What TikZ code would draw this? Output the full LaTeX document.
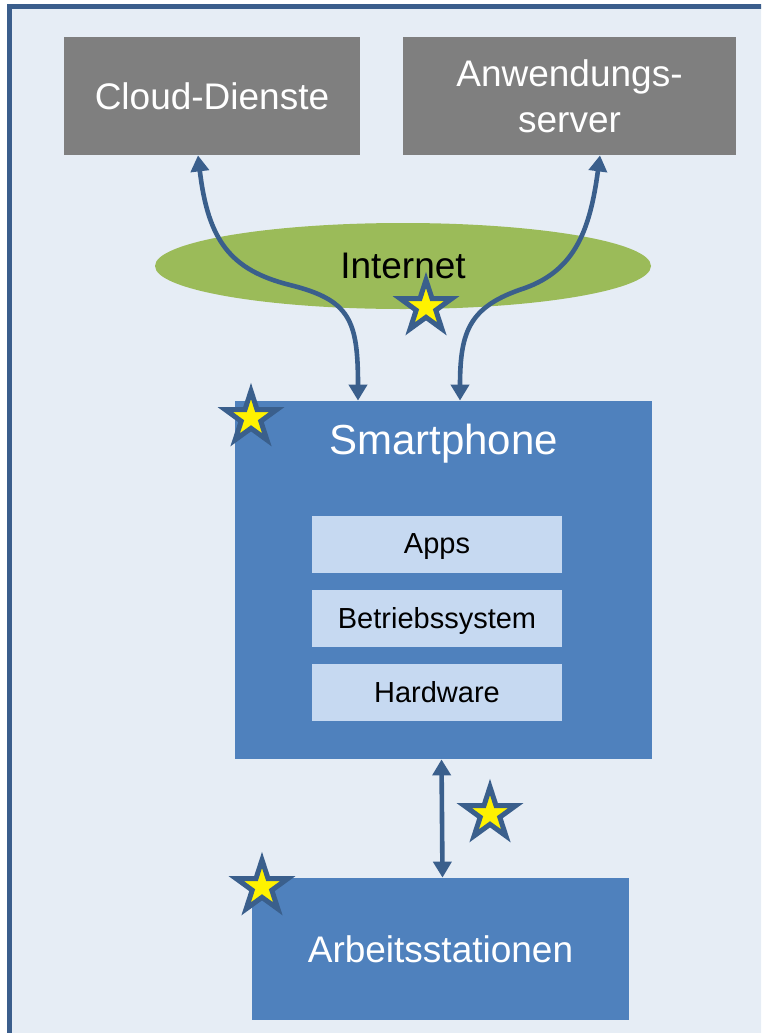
\documentclass[tikz,border=0pt]{standalone}
\usepackage{fontspec}
\setmainfont{Liberation Sans}
\usetikzlibrary{shapes.geometric,arrows.meta}

\definecolor{framebg}{RGB}{230,237,245}
\definecolor{frameline}{RGB}{59,94,140}
\definecolor{servergray}{RGB}{127,127,127}
\definecolor{netgreen}{RGB}{155,187,89}
\definecolor{phoneblue}{RGB}{79,129,189}
\definecolor{layerblue}{RGB}{198,217,241}
\definecolor{linkblue}{RGB}{58,95,140}

\tikzset{
  graybox/.style={fill=servergray, text=white, minimum height=59pt, align=center, font=\fontsize{18.5}{23}\selectfont},
  bluebox/.style={fill=phoneblue, text=white},
  layerbox/.style={fill=layerblue, minimum width=125pt, minimum height=28.5pt, text depth=0pt, font=\fontsize{14.5}{17}\selectfont},
  marker/.style={star, star points=5, star point ratio=2.618, minimum size=27pt, inner sep=0pt, fill=yellow, draw=linkblue, line width=2.5pt},
  link/.style={draw=linkblue, line width=2.3pt, <->, >={Triangle[width=9pt,length=8pt]}}
}

\begin{document}
\begin{tikzpicture}[x=0.5pt, y=-0.5pt]
\useasboundingbox (0,0) rectangle (761,1033);
\clip (0,0) rectangle (761,1033);

% Rahmen
\draw[frameline, line width=2.5pt, fill=framebg] (9.5,6) rectangle (800,1070);

% Dienste
\node[graybox, minimum width=148pt] (cloud) at (212,96) {Cloud-Dienste};
\node[graybox, minimum width=166.5pt] (appserver) at (569.5,96) {Anwendungs-\\server};

% Internet
\node[ellipse, fill=netgreen, minimum width=248pt, minimum height=43pt, text depth=0pt, font=\fontsize{18.5}{22}\selectfont] (internet) at (403,266) {Internet};

% Smartphone
\node[bluebox, minimum width=208.5pt, minimum height=179pt] (phone) at (443.5,580) {};
\node[text=white, font=\fontsize{21}{25}\selectfont, anchor=base] (phonetitle) at (443.5,454) {Smartphone};
\node[layerbox] (apps) at (437,544) {Apps};
\node[layerbox] (os) at (437,618) {Betriebssystem};
\node[layerbox] (hw) at (437,692) {Hardware};

% Arbeitsstationen
\node[bluebox, minimum width=188.5pt, minimum height=71pt, text depth=0pt, font=\fontsize{18.5}{22}\selectfont] (station) at (440.5,949) {Arbeitsstationen};

% Verbindungen
\draw[link] ([xshift=-7pt]cloud.south) .. controls (208,240) and (230,270) .. (290,285)
  .. controls (350,300) and (358,320) .. ([xshift=-42.75pt]phone.north);
\draw[link] ([xshift=15.25pt]appserver.south) .. controls (590,230) and (575,270) .. (525,288)
  .. controls (470,306) and (460,330) .. ([xshift=8.25pt]phone.north);
\draw[link] ([xshift=-1pt]phone.south) -- ([xshift=1pt]station.north);

% Sterne
\node[marker] (star1) at (426,307) {};
\node[marker] (star2) at (251,418) {};
\node[marker] (star3) at (490,814) {};
\node[marker] (star4) at (262,887) {};

\end{tikzpicture}
\end{document}
